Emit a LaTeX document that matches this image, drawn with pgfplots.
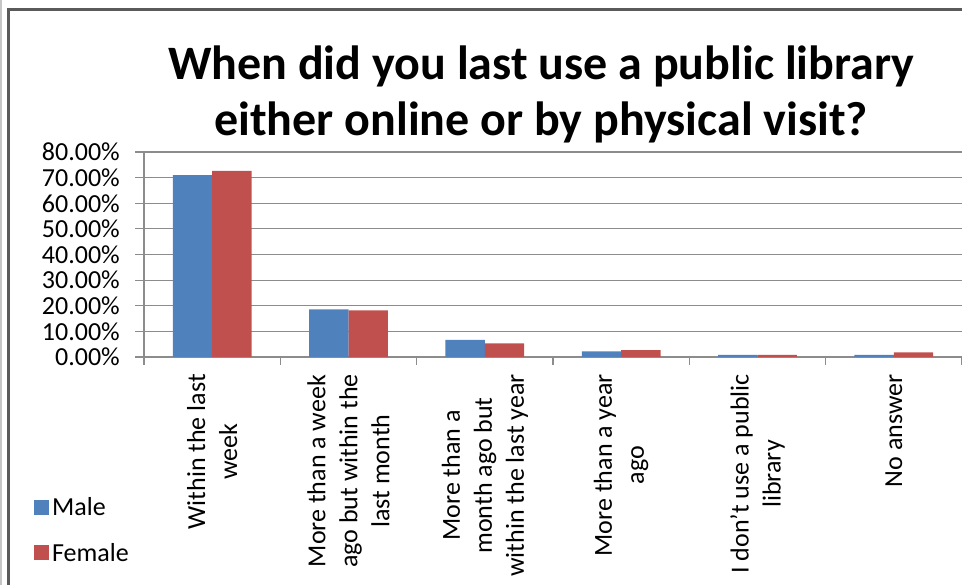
\documentclass[border=0pt]{standalone}
\usepackage{pgfplots}
\pgfplotsset{compat=1.18}
\usepackage{fontspec}
\setmainfont{Carlito}
\definecolor{male}{HTML}{4F81BD}
\definecolor{female}{HTML}{C0504D}
\definecolor{gridgray}{HTML}{8C8C8C}
\definecolor{framegray}{HTML}{5A5A5A}
\newcommand{\lbl}{\fontsize{26}{32}\selectfont}
\newcommand{\ttl}{\fontsize{48}{57}\selectfont\bfseries}

\begin{document}
\begin{tikzpicture}[x=1pt,y=1pt]
\useasboundingbox (0,0) rectangle (962,585);
\clip (0,0) rectangle (962,585);
% outer chart frame (cropped at right and bottom)
\draw[gray!45, line width=1.5pt] (1,-5) -- (1,590);
\draw[framegray, line width=2.5pt] (8.5,-20) -- (8.5,575.5) -- (990,575.5);
% title
\node[font=\ttl, anchor=base, inner sep=0pt] at (541,505) {When did you last use a public library};
\node[font=\ttl, anchor=base, inner sep=0pt] at (541,449) {either online or by physical visit?};

\begin{axis}[
  at={(144pt,228pt)}, anchor=south west,
  scale only axis, width=818pt, height=205pt,
  ybar=0pt, bar width=0.289,
  xmin=-0.5, xmax=5.5, ymin=0, ymax=80,
  ytick={0,10,...,80},
  xtick={0,...,5},
  minor xtick={-0.5,0.5,...,5.5},
  xticklabels={{Within the last\\week},
    {More than a week\\ago but within the\\last month},
    {More than a\\month ago but\\within the last year},
    {More than a year\\ago},
    {I don\symbol{39}t use a public\\library},
    {No answer}},
  yticklabel={\pgfmathprintnumber[fixed,fixed zerofill,precision=2]{\tick}\%},
  /pgf/number format/assume math mode=true,
  axis x line*=bottom, axis y line*=left,
  axis line style={gridgray, line width=1.2pt, -},
  ymajorgrids, grid style={gridgray, line width=1.2pt},
  tick align=outside, major tick length=9pt, minor tick length=8pt,
  tick style={gridgray, line width=1.2pt},
  major x tick style={draw=none},
  yticklabel style={font=\lbl, inner sep=0pt, anchor=east, xshift=-15pt},
  xticklabel style={yshift=-8pt, rotate=90, anchor=east, align=center,
    font=\lbl, inner sep=0pt},
  legend image code/.code={\fill[#1] (0pt,-7.5pt) rectangle (15pt,7.5pt);},
  legend style={at={(-0.1345,-0.67)}, anchor=north west, draw=none,
    fill=none, font=\lbl, row sep=20pt, inner sep=0pt,
    nodes={inner sep=3pt}},
  legend cell align=left,
]
\addplot[fill=male, draw=none] coordinates {
  (0,71.0) (1,18.6) (2,6.7) (3,2.2) (4,0.8) (5,0.8)};
\addplot[fill=female, draw=none] coordinates {
  (0,72.6) (1,18.2) (2,5.3) (3,2.7) (4,0.8) (5,1.8)};
\legend{Male,Female}
\end{axis}
\end{tikzpicture}
\end{document}
